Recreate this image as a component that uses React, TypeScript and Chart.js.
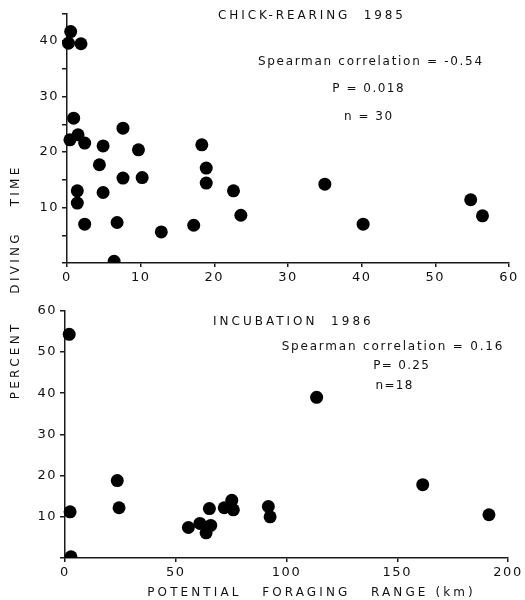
import React, { useEffect, useRef } from 'react';
import { Chart, registerables } from 'chart.js';

Chart.register(...registerables);

// Chick-rearing 1985: potential foraging range (km) vs percent diving time
const chickRange = [0.5, 0.2, 1.9, 0.9, 0.4, 1.5, 2.4, 4.9, 4.4, 7.6, 7.6, 9.7, 10.2, 1.4, 1.4, 4.9, 2.4, 6.8, 6.4, 12.8, 17.2, 18.3, 18.9, 18.9, 22.6, 23.6, 35.0, 40.2, 54.8, 56.4];
const chickDiving = [41.7, 39.6, 39.5, 26.1, 22.2, 23.1, 21.6, 21.1, 17.7, 24.3, 15.3, 20.4, 15.4, 13.0, 10.8, 12.7, 7.0, 7.3, 0.3, 5.6, 6.8, 21.3, 17.1, 14.4, 13.0, 8.6, 14.2, 7.0, 11.4, 8.5];

// Incubation 1986
const incubRange = [1.9, 2.3, 2.7, 23.6, 24.4, 55.7, 60.9, 63.7, 65.8, 65.2, 71.9, 75.3, 76.0, 91.8, 92.6, 113.6, 161.5, 191.4];
const incubDiving = [54.3, 11.2, 0.3, 18.8, 12.2, 7.4, 8.4, 6.1, 7.9, 12.0, 12.2, 14.0, 11.7, 12.5, 10.0, 39.0, 17.8, 10.5];

// Axis ranges / ticks
const topX = { min: 0, max: 60, step: 10 };
const topY = { min: 0, max: 45, step: 5, labelEvery: 10 };
const botX = { min: 0, max: 200, step: 50 };
const botY = { min: 0, max: 60, step: 10, labelEvery: 10 };

// Texts
const topTitle = 'CHICK-REARING  1985';
const topStats = ['Spearman correlation = -0.54', 'P = 0.018', 'n = 30'];
const botTitle = 'INCUBATION  1986';
const botStats = ['Spearman correlation = 0.16', 'P= 0.25', 'n=18'];
const xTitle = 'POTENTIAL   FORAGING   RANGE (km)';
const yTitleWords = ['PERCENT', 'DIVING', 'TIME'];

const FONT = '"DejaVu Sans", sans-serif';
const INK = '#111';
const AXIS = '#1a1a1a';

type Txt = { text: string; x: number; y: number; align: 'left' | 'center'; size: number; spacing: number; rotate?: boolean };

function makeTextPlugin(items: Txt[]) {
  return {
    id: 'texts',
    beforeDraw(chart: any) {
      (chart.ctx as any).letterSpacing = '1.5px';
    },
    afterDraw(chart: any) {
      const ctx: CanvasRenderingContext2D = chart.ctx;
      ctx.save();
      ctx.fillStyle = INK;
      ctx.textBaseline = 'middle';
      ctx.textAlign = 'left';
      for (const t of items) {
        ctx.font = `${t.size}px ${FONT}`;
        (ctx as any).letterSpacing = `${t.spacing}px`;
        const w = ctx.measureText(t.text).width - t.spacing;
        ctx.save();
        ctx.translate(t.x, t.y);
        if (t.rotate) ctx.rotate(-Math.PI / 2);
        const dx = t.align === 'center' ? -w / 2 : 0;
        ctx.fillText(t.text, dx, 0);
        ctx.restore();
      }
      ctx.restore();
      (ctx as any).letterSpacing = '0px';
    },
  };
}

function axisX(r: { min: number; max: number; step: number }, height: number) {
  return {
    type: 'linear' as const,
    min: r.min,
    max: r.max,
    afterFit: (s: any) => { s.height = height; },
    grid: { drawOnChartArea: false, drawTicks: true, tickLength: 4, color: AXIS, lineWidth: 1.5 },
    border: { display: true, color: AXIS, width: 1.5 },
    ticks: {
      stepSize: r.step,
      autoSkip: false,
      maxRotation: 0,
      padding: 3,
      color: INK,
      font: { family: FONT, size: 13 },
    },
  };
}

function axisY(r: { min: number; max: number; step: number; labelEvery: number }, width: number) {
  return {
    type: 'linear' as const,
    min: r.min,
    max: r.max,
    afterFit: (s: any) => { s.width = width; },
    grid: { drawOnChartArea: false, drawTicks: true, tickLength: 5, color: AXIS, lineWidth: 1.5 },
    border: { display: true, color: AXIS, width: 1.5 },
    ticks: {
      stepSize: r.step,
      autoSkip: false,
      padding: 3,
      color: INK,
      font: { family: FONT, size: 13 },
      callback: (v: any) => (Number(v) > 0 && Number(v) % r.labelEvery === 0 ? String(v) : ''),
    },
  };
}

function buildConfig(xs: number[], ys: number[], xr: any, yr: any, yWidth: number, padding: any, texts: Txt[]) {
  return {
    type: 'scatter' as const,
    data: {
      datasets: [
        {
          data: xs.map((x, i) => ({ x, y: ys[i] })),
          backgroundColor: '#000',
          borderWidth: 0,
          pointRadius: 6.5,
          pointHoverRadius: 6.5,
          clip: { left: false, top: false, right: false, bottom: 0 } as any,
        },
      ],
    },
    options: {
      animation: false as const,
      responsive: false,
      events: [],
      layout: { padding },
      plugins: { legend: { display: false }, tooltip: { enabled: false } },
      scales: { x: axisX(xr, 30), y: axisY(yr, yWidth) },
    },
    plugins: [makeTextPlugin(texts)],
  };
}

export default function App() {
  const topRef = useRef<HTMLCanvasElement>(null);
  const botRef = useRef<HTMLCanvasElement>(null);

  useEffect(() => {
    const topTexts: Txt[] = [
      { text: topTitle, x: 218, y: 16, align: 'left', size: 12, spacing: 2.9 },
      { text: topStats[0], x: 370, y: 62, align: 'center', size: 12, spacing: 1.7 },
      { text: topStats[1], x: 368, y: 89, align: 'center', size: 12, spacing: 1.5 },
      { text: topStats[2], x: 368, y: 117, align: 'center', size: 12, spacing: 1.5 },
      { text: yTitleWords[2], x: 16, y: 187, align: 'center', size: 12, spacing: 3.3, rotate: true },
      { text: yTitleWords[1], x: 16, y: 264, align: 'center', size: 12, spacing: 3.3, rotate: true },
    ];
    const botTexts: Txt[] = [
      { text: botTitle, x: 213, y: 22, align: 'left', size: 12, spacing: 3.0 },
      { text: botStats[0], x: 392, y: 47, align: 'center', size: 12, spacing: 1.8 },
      { text: botStats[1], x: 401, y: 66, align: 'center', size: 12, spacing: 1.3 },
      { text: botStats[2], x: 394, y: 86, align: 'center', size: 12, spacing: 1.3 },
      { text: xTitle, x: 310, y: 293, align: 'center', size: 12, spacing: 3.1 },
      { text: yTitleWords[0], x: 16, y: 62, align: 'center', size: 12, spacing: 3.3, rotate: true },
    ];
    const c1 = new Chart(topRef.current as HTMLCanvasElement, buildConfig(
      chickRange, chickDiving, topX, topY, 67, { left: 0, right: 16, top: 13.25, bottom: 7 }, topTexts) as any);
    const c2 = new Chart(botRef.current as HTMLCanvasElement, buildConfig(
      incubRange, incubDiving, botX, botY, 65, { left: 0, right: 17, top: 9, bottom: 12 }, botTexts) as any);
    return () => { c1.destroy(); c2.destroy(); };
  }, []);

  return (
    <div style={{ position: 'fixed', left: 0, top: 0, width: 525, height: 600, background: '#fff' }}>
      <canvas ref={topRef} width={525} height={300} style={{ position: 'absolute', left: 0, top: 0, width: 525, height: 300 }} />
      <canvas ref={botRef} width={525} height={300} style={{ position: 'absolute', left: 0, top: 300, width: 525, height: 300 }} />
    </div>
  );
}
